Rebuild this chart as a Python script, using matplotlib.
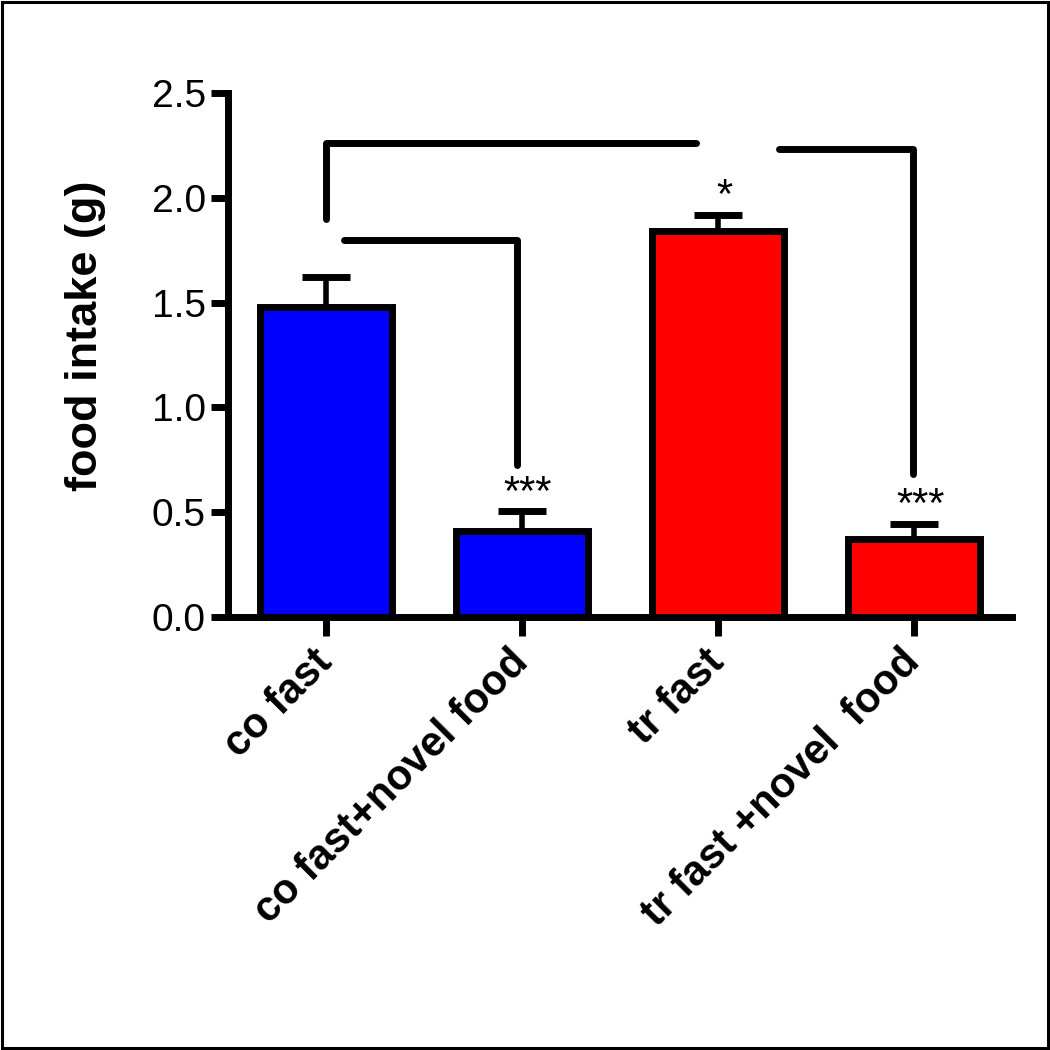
import matplotlib
matplotlib.use("Agg")
import matplotlib.pyplot as plt
from matplotlib.patches import Rectangle

plt.rcParams['font.family'] = ['Liberation Sans', 'DejaVu Sans']

categories = ["co fast", "co fast+novel food", "tr fast", "tr fast +novel  food"]
means = [1.48, 0.41, 1.84, 0.37]
sems = [0.14, 0.095, 0.08, 0.075]
colors = ["#0000ff", "#0000ff", "#ff0000", "#ff0000"]
stars = ["", "***", "*", "***"]
yticks = [0.0, 0.5, 1.0, 1.5, 2.0, 2.5]

# significance brackets: (x points, y points)
brackets = [
    ([0.0, 0.0, 1.89], [1.90, 2.26, 2.26]),
    ([0.09, 0.975, 0.975], [1.80, 1.80, 0.725]),
    ([2.31, 2.995, 2.995], [2.235, 2.235, 0.68]),
]

fig = plt.figure(figsize=(10.5, 10.5), dpi=100)
fig.patches.append(Rectangle((0.002, 0.002), 0.996, 0.996, transform=fig.transFigure,
                             fill=False, edgecolor='black', linewidth=2.2))
ax = fig.add_axes([0.217, 0.4124, 0.747, 0.499])

x = list(range(len(categories)))
ax.bar(x, means, width=0.67, color=colors, edgecolor='black', linewidth=5, zorder=2)
ax.errorbar(x, means, yerr=[[0]*4, sems], fmt='none', ecolor='black', elinewidth=4,
            capsize=17, capthick=5, zorder=1)
for xi, m, s, st in zip(x, means, sems, stars):
    if st:
        ax.text(xi + 0.03, m + s + 0.03, st, ha='center', va='baseline', fontsize=30)

for bx, by in brackets:
    ax.plot(bx, by, color='black', linewidth=5, solid_capstyle='round',
            solid_joinstyle='round', clip_on=False)

ax.set_xlim(-0.5, 3.5)
ax.set_ylim(0, 2.5)
ax.set_yticks(yticks)
ax.set_yticklabels([f"{v:.1f}" for v in yticks], fontsize=28)
ax.set_xticks(x)
ax.set_xticklabels(categories, rotation=45, ha='right', va='center', rotation_mode='anchor',
                   fontsize=30, fontweight='bold')
ax.set_ylabel("food intake (g)", fontsize=32.5, fontweight='bold')
ax.yaxis.set_label_coords(-0.155, 0.536)
for side in ['top', 'right']:
    ax.spines[side].set_visible(False)
for side in ['left', 'bottom']:
    ax.spines[side].set_linewidth(5)
ax.tick_params(axis='both', width=5, length=12, pad=4)
ax.tick_params(axis='x', length=14, pad=14)

fig.savefig("out.png", dpi=100)
